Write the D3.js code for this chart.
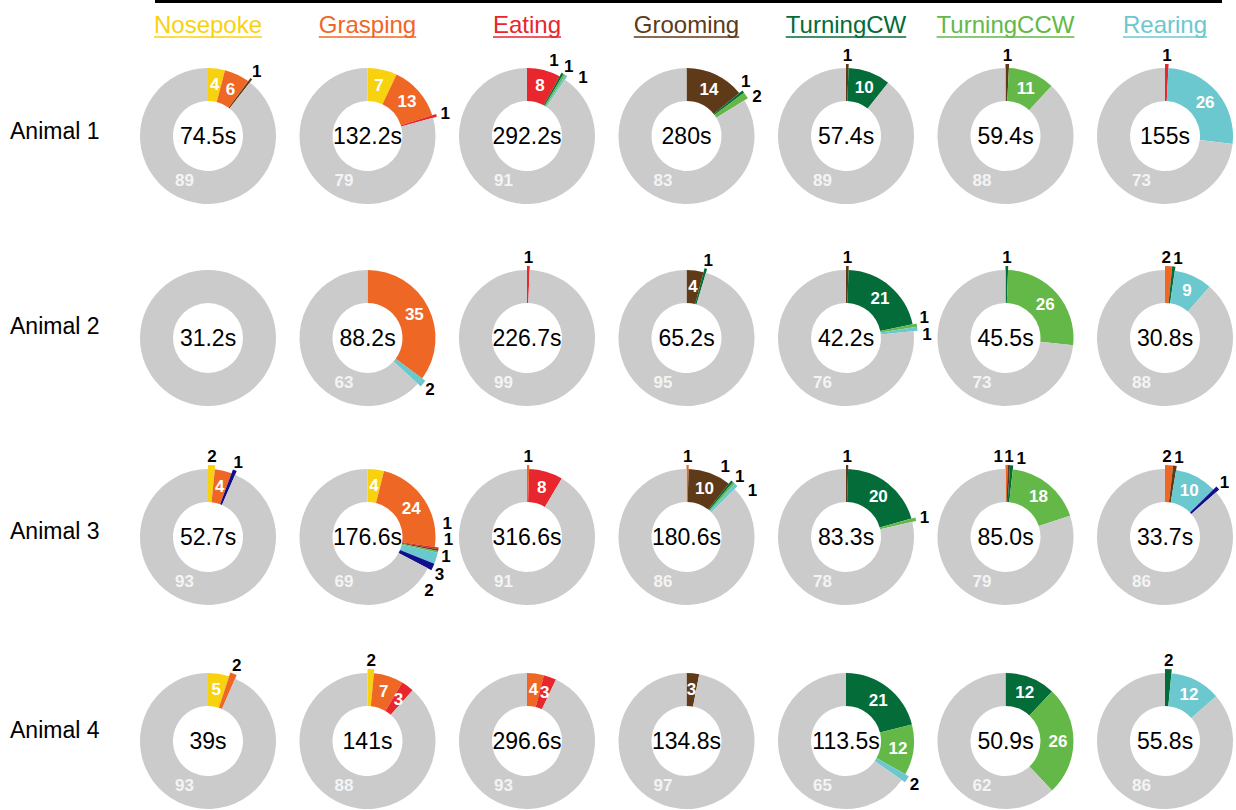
<!DOCTYPE html>
<html>
<head>
<meta charset="utf-8">
<script src="https://cdn.jsdelivr.net/npm/d3@7"></script>
<style>
  html, body { margin: 0; padding: 0; background: #fff; }
  svg { display: block; font-family: "Liberation Sans", Arial, Helvetica, sans-serif; }
</style>
</head>
<body>
<svg id="chart" width="1236" height="810"></svg>
<script>
// behaviours shown as column headers
const categories = ["Nosepoke", "Grasping", "Eating", "Grooming", "TurningCW", "TurningCCW", "Rearing"];
// slices of every donut, clockwise from 12 o'clock
const sliceKeys = ["Nosepoke", "Grasping", "Eating", "Grooming", "TurningCW", "TurningCCW", "Rearing", "Other", "None"];
const sliceColors = ["#f8d20f", "#ef6725", "#e8262e", "#5e3a18", "#036c38", "#63b847", "#6bc8ce", "#10108c", "#cbcbcb"];
const animals = ["Animal 1", "Animal 2", "Animal 3", "Animal 4"];

// % of time per donut: [Nosepoke, Grasping, Eating, Grooming, CW, CCW, Rearing, Other, None]
const animal1 = [
  [4, 6, 0, 0.5, 0, 0, 0, 0, 89],
  [7, 13, 0.6, 0, 0, 0, 0, 0, 79],
  [0, 0, 8, 0, 0.5, 0.5, 0.5, 0, 91],
  [0, 0, 0, 14, 0.6, 1.5, 0, 0, 83],
  [0, 0, 0, 0.6, 10, 0, 0, 0, 89],
  [0, 0, 0, 0.8, 0, 11, 0, 0, 88],
  [0, 0, 0.8, 0, 0, 0, 26, 0, 73]
];
const animal2 = [
  [0, 0, 0, 0, 0, 0, 0, 0, 100],
  [0, 35, 0, 0, 0, 0, 1.6, 0, 63],
  [0, 0, 0.6, 0, 0, 0, 0, 0, 99],
  [0, 0, 0, 4, 0.6, 0, 0, 0, 95],
  [0, 0, 0, 0.6, 21, 0.7, 0.9, 0, 76],
  [0, 0, 0, 0, 0.6, 26, 0, 0, 73],
  [0, 1.6, 0, 0, 0.7, 0, 9, 0, 88]
];
const animal3 = [
  [1.6, 4, 0, 0, 0, 0, 0, 0.9, 93],
  [4, 24, 0.4, 0.4, 0, 0.4, 2.6, 1.6, 69],
  [0, 0.5, 8, 0, 0, 0, 0, 0, 91],
  [0, 0.5, 0, 10, 0.5, 0.5, 0.8, 0, 86],
  [0, 0, 0, 0.5, 20, 0.8, 0, 0, 78],
  [0, 0.5, 0, 0.5, 0.7, 18, 0, 0, 79],
  [0, 1.8, 0, 0.8, 0, 0, 10, 0.9, 86]
];
const animal4 = [
  [5, 1.5, 0, 0, 0, 0, 0, 0, 93],
  [1.5, 7, 3, 0, 0, 0, 0, 0, 88],
  [0, 4, 3, 0, 0, 0, 0, 0, 93],
  [0, 0, 0, 3, 0, 0, 0, 0, 97],
  [0, 0, 0, 0, 21, 12, 1.6, 0, 65],
  [0, 0, 0, 0, 12, 26, 0, 0, 62],
  [0, 0, 0, 0, 1.5, 0, 12, 0, 86]
];
// total duration of each behaviour per animal (centre labels)
const durations1 = ["74.5s", "132.2s", "292.2s", "280s", "57.4s", "59.4s", "155s"];
const durations2 = ["31.2s", "88.2s", "226.7s", "65.2s", "42.2s", "45.5s", "30.8s"];
const durations3 = ["52.7s", "176.6s", "316.6s", "180.6s", "83.3s", "85.0s", "33.7s"];
const durations4 = ["39s", "141s", "296.6s", "134.8s", "113.5s", "50.9s", "55.8s"];

const allValues = [animal1, animal2, animal3, animal4];
const allDurations = [durations1, durations2, durations3, durations4];

const svg = d3.select("#chart");
const color = d3.scaleOrdinal().domain(sliceKeys).range(sliceColors);

// layout
const colX = d3.scalePoint().domain(categories).range([208, 1165]);
const rowY = d3.scaleOrdinal().domain(animals).range([136, 338, 537, 741]);
const labelY = d3.scaleOrdinal().domain(animals).range([131, 326, 531, 730]);
const rOuter = 68, rInner = 35;
const INSIDE_MIN = 3;           // slices >= 3% get a white label inside
const GRAY_LABEL_ANGLE = 208 * Math.PI / 180;

// top rule
svg.append("line")
  .attr("x1", 155).attr("x2", 1222).attr("y1", 1.5).attr("y2", 1.5)
  .attr("stroke", "#000").attr("stroke-width", 3);

// column headers, underlined
const headers = svg.selectAll("g.header").data(categories).join("g")
  .attr("class", "header")
  .attr("transform", d => `translate(${colX(d)}, 33)`);
headers.append("text")
  .attr("text-anchor", "middle")
  .attr("font-size", 24)
  .attr("fill", d => color(d))
  .text(d => d);
headers.each(function (d) {
  const w = d3.select(this).select("text").node().getComputedTextLength();
  d3.select(this).append("line")
    .attr("x1", -w / 2).attr("x2", w / 2).attr("y1", 4).attr("y2", 4)
    .attr("stroke", color(d)).attr("stroke-width", 1.4);
});

// row labels
svg.selectAll("text.animal").data(animals).join("text")
  .attr("class", "animal")
  .attr("x", 10)
  .attr("y", d => labelY(d))
  .attr("dy", "0.35em")
  .attr("font-size", 23)
  .text(d => d);

const pie = d3.pie().sort(null).value(d => d.value);
const arc = d3.arc().innerRadius(rInner);
const labelOf = v => Math.max(1, Math.round(v));

function spreadLabels(labels, r) {
  // push outside labels apart along the circle so they don't overlap
  // (needs more room where the circle runs vertically)
  labels.sort((a, b) => a.angle - b.angle);
  for (let it = 0; it < 150; it++) {
    for (let i = 1; i < labels.length; i++) {
      const a = (labels[i].angle + labels[i - 1].angle) / 2;
      const minGap = (10.5 * Math.abs(Math.cos(a)) + 16 * Math.abs(Math.sin(a))) / r;
      const gap = labels[i].angle - labels[i - 1].angle;
      if (gap < minGap) {
        const push = (minGap - gap) / 2;
        labels[i].angle += push;
        labels[i - 1].angle -= push;
      }
    }
  }
  return labels;
}

animals.forEach((animal, ai) => {
  categories.forEach((cat, ci) => {
    const values = allValues[ai][ci];
    const slices = sliceKeys.map((k, i) => ({ key: k, value: values[i] })).filter(d => d.value > 0);
    const arcs = pie(slices);
    const g = svg.append("g")
      .attr("transform", `translate(${colX(cat)}, ${rowY(animal)})`);

    g.selectAll("path").data(arcs).join("path")
      .attr("d", d => arc.outerRadius(d.data.key !== "None" && d.data.value < INSIDE_MIN ? rOuter + 4 : rOuter)(d))
      .attr("fill", d => color(d.data.key));

    g.append("text")
      .attr("text-anchor", "middle")
      .attr("dy", "0.35em")
      .attr("font-size", 23)
      .text(allDurations[ai][ci]);

    const mid = d => (d.startAngle + d.endAngle) / 2;
    const rMid = (rInner + rOuter) / 2 + 1;

    // big slices: white label in the ring
    const inside = arcs.filter(d => d.data.key !== "None" && d.data.value >= INSIDE_MIN);
    g.selectAll("text.in").data(inside).join("text")
      .attr("class", "in")
      .attr("x", d => rMid * Math.sin(mid(d)))
      .attr("y", d => -rMid * Math.cos(mid(d)))
      .attr("dy", "0.35em")
      .attr("text-anchor", "middle")
      .attr("font-size", 17).attr("font-weight", "bold")
      .attr("fill", "#fff")
      .text(d => labelOf(d.data.value));

    // remaining share of time
    const rGray = 50;
    const rest = arcs.filter(d => d.data.key === "None" && d.data.value < 100);
    g.selectAll("text.rest").data(rest).join("text")
      .attr("class", "rest")
      .attr("x", rGray * Math.sin(GRAY_LABEL_ANGLE))
      .attr("y", -rGray * Math.cos(GRAY_LABEL_ANGLE))
      .attr("dy", "0.35em")
      .attr("text-anchor", "middle")
      .attr("font-size", 17).attr("font-weight", "bold")
      .attr("fill", "#f4f4f4")
      .text(d => labelOf(d.data.value));

    // small slices: black label outside the ring
    const rOut = rOuter + 13;
    const outside = spreadLabels(arcs
      .filter(d => d.data.key !== "None" && d.data.value < INSIDE_MIN)
      .map(d => ({ angle: mid(d), text: labelOf(d.data.value) })), rOut);
    g.selectAll("text.out").data(outside).join("text")
      .attr("class", "out")
      .attr("x", d => rOut * Math.sin(d.angle))
      .attr("y", d => -rOut * Math.cos(d.angle))
      .attr("dy", "0.35em")
      .attr("text-anchor", "middle")
      .attr("font-size", 17).attr("font-weight", "bold")
      .attr("fill", "#000")
      .text(d => d.text);
  });
});
</script>
</body>
</html>
